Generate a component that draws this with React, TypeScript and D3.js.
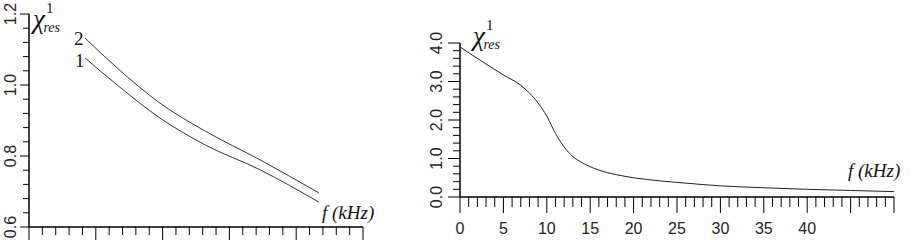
import * as d3 from "d3"

// left panel: two curves, f axis has no printed numbers
const leftF = [4.2, 6.6, 9.8, 13.2, 17.3, 21.7]
const leftCurve1 = [1.076, 1.0, 0.907, 0.831, 0.761, 0.67]
const leftCurve2 = [1.132, 1.048, 0.949, 0.87, 0.789, 0.696]
const leftYLabels = ["0.6", "0.8", "1.0", "1.2"]

// right panel
const rightF = [0, 2, 5, 7, 9, 10, 11, 12, 13, 14, 16, 18, 20, 23, 26, 30, 35, 40, 45, 50]
const rightChi = [3.9, 3.6, 3.17, 2.9, 2.44, 2.1, 1.65, 1.3, 1.05, 0.9, 0.7, 0.58, 0.5, 0.42, 0.36, 0.29, 0.24, 0.2, 0.17, 0.14]
const rightYLabels = ["0.0", "1.0", "2.0", "3.0", "4.0"]
const rightXLabels = ["0", "5", "10", "15", "20", "25", "30", "35", "40"]

const tickFont = "'Liberation Sans Narrow', 'Liberation Sans', Arial, sans-serif"
const serif = "'Liberation Serif', 'DejaVu Serif', 'Times New Roman', serif"

function ChiLabel({ x, y }: { x: number; y: number }) {
  return (
    <text x={x} y={y} style={{ fontFamily: serif }} fill="#111">
      <tspan fontStyle="italic" fontSize={27}>χ</tspan>
      <tspan fontSize={15} dy={-15} dx={1}>1</tspan>
      <tspan fontStyle="italic" fontSize={14} dx={-10} dy={19}>res</tspan>
    </text>
  )
}

export default function App() {
  const xL = d3.scaleLinear().domain([0, 25]).range([29, 363])
  const yL = d3.scaleLinear().domain([0.6, 1.2]).range([227, 14])
  const xR = d3.scaleLinear().domain([0, 50]).range([460, 894])
  const yR = d3.scaleLinear().domain([0, 4]).range([197, 43])

  const lineL = (vals: number[]) =>
    d3.line<number>()
      .x((_, i) => xL(leftF[i]))
      .y((d) => yL(d))
      .curve(d3.curveMonotoneX)(vals) || ""

  const lineR = d3.line<number>()
    .x((_, i) => xR(rightF[i]))
    .y((d) => yR(d))
    .curve(d3.curveMonotoneX)(rightChi) || ""

  const leftYTicks = d3.range(0, 16).map((i) => 0.6 + i * 0.04)
  const leftXTicks = d3.range(0, 26)
  const rightYTicks = d3.range(0, 21).map((i) => i * 0.2)
  const rightXTicks = d3.range(0, 51)

  return (
    <div style={{ position: "fixed", left: 0, top: 0, background: "#fff" }}>
      <svg width={916} height={240} style={{ display: "block" }}>
        <rect width={916} height={240} fill="#fff" />

        {/* left panel */}
        <g stroke="#000" strokeWidth={1}>
          {leftYTicks.map((v, i) => (
            <line key={i} x1={i % 5 === 0 ? 20 : 23} x2={29} y1={yL(v)} y2={yL(v)} />
          ))}
          {leftXTicks.map((v) => (
            <line key={v} x1={xL(v)} x2={xL(v)} y1={227} y2={v % 5 === 0 ? 240 : 235} />
          ))}
        </g>
        <line x1={29} x2={29} y1={14} y2={227} stroke="#000" strokeWidth={1.5} />
        <line x1={29} x2={363} y1={227} y2={227} stroke="#000" strokeWidth={1.5} />
        {leftYLabels.map((t) => (
          <text
            key={t}
            transform={`translate(10,${yL(+t)}) rotate(-90)`}
            textAnchor="middle"
            dominantBaseline="central"
            style={{ fontFamily: tickFont }}
            fontSize={16}
            fill="#222"
          >
            {t}
          </text>
        ))}
        <path d={lineL(leftCurve1)} fill="none" stroke="#333" strokeWidth={1} />
        <path d={lineL(leftCurve2)} fill="none" stroke="#333" strokeWidth={1} />
        <text x={74} y={45} style={{ fontFamily: serif }} fontSize={19} fill="#111">2</text>
        <text x={75} y={67} style={{ fontFamily: serif }} fontSize={19} fill="#111">1</text>
        <ChiLabel x={33} y={28} />
        <text x={322} y={219} style={{ fontFamily: serif }} fontStyle="italic" fontSize={19} fill="#111">f (kHz)</text>

        {/* right panel */}
        <g stroke="#000" strokeWidth={1}>
          {rightYTicks.map((v, i) => (
            <line key={i} x1={i % 5 === 0 ? 448 : 453} x2={460} y1={yR(v)} y2={yR(v)} />
          ))}
          {rightXTicks.map((v) => (
            <line key={v} x1={xR(v)} x2={xR(v)} y1={197} y2={v % 5 === 0 ? 213 : 207} />
          ))}
        </g>
        <line x1={460} x2={460} y1={43} y2={197} stroke="#000" strokeWidth={1.5} />
        <line x1={460} x2={894} y1={197} y2={197} stroke="#000" strokeWidth={1.5} />
        {rightYLabels.map((t) => (
          <text
            key={t}
            transform={`translate(436,${yR(+t)}) rotate(-90)`}
            textAnchor="middle"
            dominantBaseline="central"
            style={{ fontFamily: tickFont }}
            fontSize={16}
            fill="#222"
          >
            {t}
          </text>
        ))}
        {rightXLabels.map((t) => (
          <text
            key={t}
            x={xR(+t)}
            y={234}
            textAnchor="middle"
            style={{ fontFamily: tickFont }}
            fontSize={16}
            fill="#222"
          >
            {t}
          </text>
        ))}
        <path d={lineR} fill="none" stroke="#222" strokeWidth={1} />
        <ChiLabel x={473} y={45} />
        <text x={848} y={177} style={{ fontFamily: serif }} fontStyle="italic" fontSize={19} fill="#111">f (kHz)</text>
      </svg>
    </div>
  )
}
